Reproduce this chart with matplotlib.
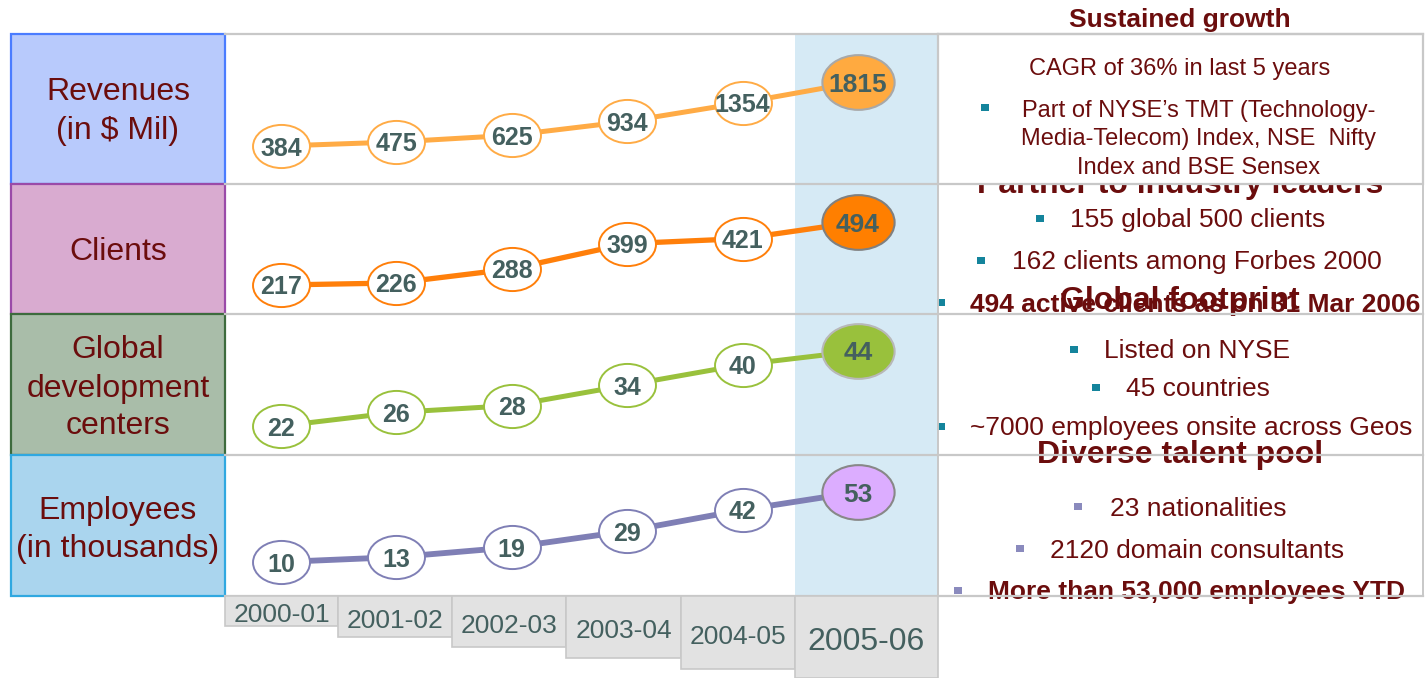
import matplotlib
matplotlib.use("Agg")
import matplotlib.pyplot as plt
from matplotlib.patches import Rectangle
from matplotlib.path import Path
from matplotlib.transforms import Affine2D

plt.rcParams['font.family'] = ['Liberation Sans', 'DejaVu Sans']

# ---------------- data ----------------
years = ["2000-01", "2001-02", "2002-03", "2003-04", "2004-05", "2005-06"]
revenues = [384, 475, 625, 934, 1354, 1815]
clients = [217, 226, 288, 399, 421, 494]
dev_centers = [22, 26, 28, 34, 40, 44]
employees = [10, 13, 19, 29, 42, 53]
row_labels = [["Revenues", "(in $ Mil)"],
              ["Clients"],
              ["Global", "development", "centers"],
              ["Employees", "(in thousands)"]]

titles = ["Sustained growth", "Partner to industry leaders",
          "Global footprint", "Diverse talent pool"]
growth_points = ["CAGR of 36% in last 5 years",
                 ["Part of NYSE\u2019s TMT (Technology-",
                  "Media-Telecom) Index, NSE  Nifty",
                  "Index and BSE Sensex"]]
partner_points = ["155 global 500 clients", "162 clients among Forbes 2000",
                  "494 active clients as on 31 Mar 2006"]
footprint_points = ["Listed on NYSE", "45 countries",
                    "~7000 employees onsite across Geos"]
talent_points = ["23 nationalities", "2120 domain consultants",
                 "More than 53,000 employees YTD"]

# ---------------- styles ----------------
W, H = 1425, 678
DARKRED = "#6b0d0d"
SLATE = "#44605f"
GRID = "#c8c8c8"
TEAL = "#14849c"
LAV = "#8a8abd"

fig = plt.figure(figsize=(W / 100, H / 100), dpi=100)
bg = fig.add_axes([0, 0, 1, 1])
bg.set_xlim(0, W)
bg.set_ylim(H, 0)
bg.axis('off')
bg.set_zorder(0)

row_tops = [34, 184, 314, 455]
row_bots = [184, 314, 455, 596]
box_fill = ["#b8cafc", "#d9abd0", "#a9bda9", "#aad5ee"]
box_edge = ["#4a7cff", "#9a4aa8", "#3d6b3d", "#30a8e0"]
label_ys = [[89, 127], [248], [347, 385, 422], [507, 545]]

# highlight column for 2005-06
bg.add_patch(Rectangle((795, 34), 143, 562, facecolor="#d6eaf5",
                       edgecolor="none", zorder=1))

# left label boxes
for i in range(4):
    t, b = row_tops[i], row_bots[i]
    bg.add_patch(Rectangle((11, t), 214, b - t, facecolor=box_fill[i],
                           edgecolor=box_edge[i], lw=1.6, zorder=2))
    for line, y in zip(row_labels[i], label_ys[i]):
        bg.text(118, y, line, ha='center', va='center_baseline',
                fontsize=23, color=DARKRED, zorder=3)

# horizontal grid lines across the chart area
for y in [34, 184, 314, 455, 596]:
    bg.plot([225, 938], [y, y], color=GRID, lw=1.6, zorder=2)

# year boxes below
xedges = [225, 338, 452, 566, 681, 795, 938]
ybots = [626, 637, 647, 658, 669, 678]
for i, yr in enumerate(years):
    x0, x1 = xedges[i], xedges[i + 1]
    bg.add_patch(Rectangle((x0, 596), x1 - x0, ybots[i] - 596,
                           facecolor="#e2e2e2", edgecolor=GRID, lw=1.2,
                           zorder=2))
    fs = 23 if i == 5 else 19
    bg.text((x0 + x1) / 2, (596 + ybots[i]) / 2 + 2, yr, ha='center',
            va='center_baseline', fontsize=fs, color=SLATE, zorder=3)

# ---------------- right panel ----------------
def bullet(x, y, color):
    bg.add_patch(Rectangle((x - 3.5, y - 3.5), 7.5, 7.5, facecolor=color,
                           edgecolor='none', zorder=6))

def btext(x, y, s, bold=False, z=6):
    bg.text(x, y, s, ha='left', va='center_baseline', fontsize=19,
            color=DARKRED, fontweight='bold' if bold else 'normal', zorder=z)

bg.text(1180, 18, titles[0], ha='center', va='center_baseline', fontsize=19,
        fontweight='bold', color=DARKRED, zorder=6)
# title partly hidden behind the top box
bg.text(1180, 182, titles[1], ha='center', va='center_baseline', fontsize=23,
        fontweight='bold', color=DARKRED, zorder=4)
bg.add_patch(Rectangle((938, 34), 485, 150, facecolor='white',
                       edgecolor=GRID, lw=1.6, zorder=5))
bg.text(1180, 66, growth_points[0], ha='center', va='center_baseline',
        fontsize=17, color=DARKRED, zorder=6)
bullet(985, 107, TEAL)
for line, y in zip(growth_points[1], [108, 137, 166]):
    bg.text(1199, y, line, ha='center', va='center_baseline', fontsize=17,
            color=DARKRED, zorder=6)

bullet(1040, 218, TEAL)
btext(1070, 218, partner_points[0])
bullet(981, 260, TEAL)
btext(1012, 260, partner_points[1])
bullet(941, 302, TEAL)
btext(970, 302, partner_points[2], bold=True)
bg.text(1180, 297, titles[2], ha='center', va='center_baseline', fontsize=23,
        fontweight='bold', color=DARKRED, zorder=6)

bullet(1074, 349, TEAL)
btext(1104, 349, footprint_points[0])
bullet(1096, 387, TEAL)
btext(1126, 387, footprint_points[1])
bullet(941, 426, TEAL)
btext(970, 426, footprint_points[2])
bg.text(1180, 452, titles[3], ha='center', va='center_baseline', fontsize=23,
        fontweight='bold', color=DARKRED, zorder=6)

bullet(1078, 506, LAV)
btext(1110, 506, talent_points[0])
bullet(1020, 548, LAV)
btext(1050, 548, talent_points[1])
bullet(958, 590, LAV)
btext(988, 590, talent_points[2], bold=True)

# right panel frame lines (drawn on top of text)
for y in [314, 455, 596]:
    bg.plot([938, 1423], [y, y], color=GRID, lw=1.6, zorder=7)
bg.plot([938, 1423], [34, 34], color=GRID, lw=1.6, zorder=7)
bg.plot([938, 938], [34, 596], color=GRID, lw=1.4, zorder=7)
bg.plot([1423, 1423], [34, 596], color=GRID, lw=1.4, zorder=7)

# ---------------- data rows ----------------
series = [revenues, clients, dev_centers, employees]
line_colors = ["#ffab45", "#ff7f0a", "#99c13c", "#7f7fb5"]
last_fill = ["#ffaa40", "#ff7f00", "#99c13c", "#dcadff"]
last_edge = ["#a8a8a8", "#808080", "#b8b8b8", "#888888"]
anchor_px = [(146, 82), (285, 222), (426, 351), (562, 492)]
line_w = [3.6, 3.8, 3.6, 4.2]

ell = Path.unit_circle().transformed(Affine2D().scale(1.32, 1.0))
spacing = 115.4
xl = (225 - 281) / spacing
xr = (938 - 281) / spacing
xs = list(range(len(years)))

for i, vals in enumerate(series):
    t, b = row_tops[i], row_bots[i]
    ax = fig.add_axes([225 / W, 1 - b / H, (938 - 225) / W, (b - t) / H])
    ax.set_zorder(1)
    ax.patch.set_alpha(0)
    ax.axis('off')
    ax.set_xlim(xl, xr)
    p0, p1 = anchor_px[i]
    f0 = (b - p0) / (b - t)
    f1 = (b - p1) / (b - t)
    v0, v1 = vals[0], vals[-1]
    s = (f1 - f0) / (v1 - v0)
    ax.set_ylim(v0 - f0 / s, v0 + (1 - f0) / s)
    ax.plot(xs, vals, color=line_colors[i], lw=line_w[i],
            solid_capstyle='butt', zorder=1)
    ax.plot(xs[:-1], vals[:-1], ls='none', marker=ell, ms=41,
            mfc='white', mec=line_colors[i], mew=1.4, zorder=2)
    ax.plot(xs[-1:], vals[-1:], ls='none', marker=ell, ms=52,
            mfc=last_fill[i], mec=last_edge[i], mew=1.5, zorder=2)
    for x, v in zip(xs, vals):
        ax.text(x, v, str(v), ha='center', va='center_baseline',
                fontsize=19 if x == 5 else 18, fontweight='bold',
                color=SLATE, zorder=3)

fig.savefig("out.png", dpi=100)
